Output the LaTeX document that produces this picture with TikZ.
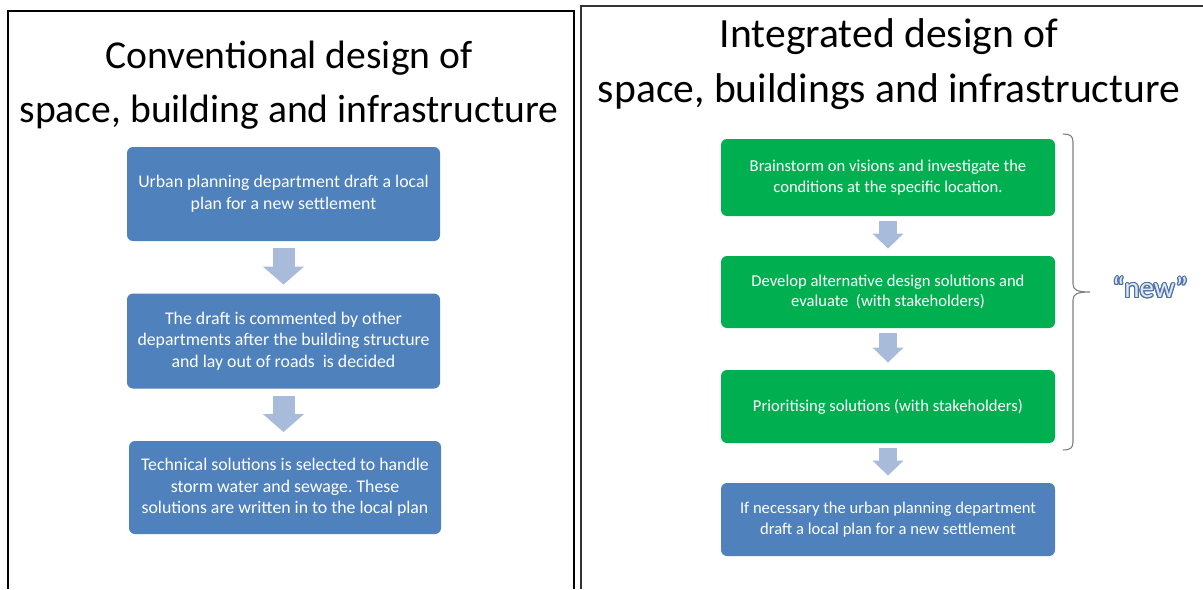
\documentclass[tikz,border=0pt]{standalone}
\usepackage{fontspec}
\setmainfont{Carlito}
\usepackage{contour}
\usetikzlibrary{arrows.meta}
\definecolor{boxblue}{HTML}{4F81BD}
\definecolor{boxgreen}{HTML}{00B050}
\definecolor{arrowblue}{HTML}{A9BBDB}
\definecolor{newfill}{HTML}{DCE6F2}
\definecolor{newline}{HTML}{4F6FA8}
\contourlength{0.55pt}
\frenchspacing
\begin{document}
\begin{tikzpicture}[x=0.5pt,y=-0.5pt,
  frameline/.style={draw=black, line width=0.75pt},
  titletext/.style={anchor=base, inner sep=0pt, text=black},
  boxbase/.style={rounded corners=3pt, text=white, align=center, inner sep=0pt},
  lbox/.style={boxbase, fill=boxblue, minimum width=156.5pt, font=\fontsize{8.9}{10.75}\selectfont},
  rbox/.style={boxbase, minimum width=167pt, font=\fontsize{8.3}{10.3}\selectfont},
  bigarrow/.style={draw=arrowblue, line width=11pt, -{Triangle[width=20pt,length=9pt]}, shorten <=3.5pt, shorten >=4.25pt},
  smallarrow/.style={draw=arrowblue, line width=9pt, -{Triangle[width=15pt,length=7.5pt]}, shorten <=2.5pt, shorten >=3.5pt},
  bracestyle/.style={draw=black!50, line width=0.55pt}
]
\useasboundingbox (0,0) rectangle (1203,589);
\fill[white] (0,0) rectangle (1203,589);

% frames
\draw[frameline] (8,589) -- (8,11) -- (574,11) -- (574,589);
\draw[frameline, draw=black!80, line width=0.65pt] (581,589) -- (581,6) -- (1203,6);

% left panel
\node[titletext, font=\fontsize{19.8}{27}\selectfont] (lt1) at (289,68) {Conventional design of};
\node[titletext, font=\fontsize{19.8}{27}\selectfont] (lt2) at (289,122) {space, building and infrastructure};

\node[lbox, minimum height=47pt] (b1) at (283.5,194) {Urban planning department draft a local\\plan for a new settlement};
\node[lbox, minimum height=47.5pt] (b2) at (283.5,341) {The draft is commented by other\\departments after the building structure\\and lay out of roads\ \ is decided};
\node[lbox, minimum height=46.5pt, minimum width=156pt] (b3) at (285,487.5) {Technical solutions is selected to handle\\storm water and sewage. These\\solutions are written in to the local plan};

\draw[bigarrow] (b1.south) -- (b2.north);
\draw[bigarrow] (b2.south) -- (b2.south |- b3.north);

% right panel
\node[titletext, font=\fontsize{20.8}{27.5}\selectfont] (rt1) at (889,47) {Integrated design of};
\node[titletext, font=\fontsize{20.8}{27.5}\selectfont] (rt2) at (889,102) {space, buildings and infrastructure};

\node[rbox, fill=boxgreen, minimum height=38.5pt] (g1) at (888,177.5) {Brainstorm on visions and investigate the\\conditions at the specific location.};
\node[rbox, fill=boxgreen, minimum height=36pt] (g2) at (888,292) {Develop alternative design solutions and\\evaluate\ \ (with stakeholders)};
\node[rbox, fill=boxgreen, minimum height=36.5pt] (g3) at (888,406.5) {Prioritising solutions (with stakeholders)};
\node[rbox, fill=boxblue, minimum height=36.5pt] (b4) at (888,519.5) {If necessary the urban planning department\\draft a local plan for a new settlement};

\draw[smallarrow] (g1.south) -- (g2.north);
\draw[smallarrow] (g2.south) -- (g3.north);
\draw[smallarrow] (g3.south) -- (b4.north);

% brace
\draw[bracestyle] (1063,134) .. controls (1070,134) and (1073,136) .. (1073,142)
  -- (1073,284) .. controls (1073,290) and (1077,292) .. (1090,292)
  .. controls (1077,292) and (1073,294) .. (1073,300)
  -- (1073,442) .. controls (1073,448) and (1070,450) .. (1063,450);

\node[inner sep=0pt, text=newfill, font=\fontsize{14.5}{16}\selectfont] (newlabel) at (1150,288) {\contour{newline}{“new”}};
\end{tikzpicture}
\end{document}
